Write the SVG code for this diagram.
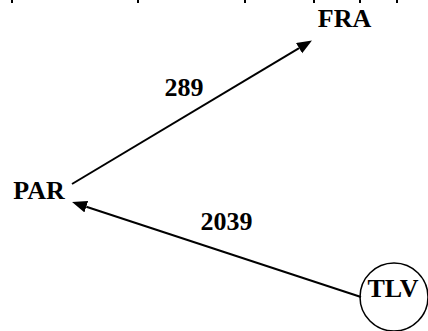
<svg xmlns="http://www.w3.org/2000/svg" width="428" height="331" viewBox="0 0 428 331">
<style>
.lbl{font-family:"Liberation Serif","Times New Roman",serif;font-weight:bold;font-size:26px;fill:#000;text-anchor:middle}
.edge{stroke:#000;stroke-width:2;fill:none}
.tick{fill:#000}
</style>
<defs>
<marker id="ah" markerUnits="userSpaceOnUse" markerWidth="16" markerHeight="13" refX="0" refY="6" orient="auto">
<path d="M0,0 L15,6 L0,12 z" fill="#000"/>
</marker>
</defs>
<rect width="428" height="331" fill="#fff"/>
<g id="ticks">
<rect class="tick" x="11" y="0" width="2" height="3"/>
<rect class="tick" x="137" y="0" width="2" height="3"/>
<rect class="tick" x="244" y="0" width="2" height="3"/>
<rect class="tick" x="313" y="0" width="2" height="3"/>
<rect class="tick" x="359" y="0" width="2" height="3"/>
<rect class="tick" x="396" y="0" width="2" height="3"/>
</g>
<g id="connectors">
<line class="edge" x1="72" y1="184" x2="299.1" y2="48.2" marker-end="url(#ah)"/>
<text class="lbl" x="184" y="96">289</text>
<line class="edge" x1="361" y1="297" x2="86.3" y2="206.7" marker-end="url(#ah)"/>
<text class="lbl" x="226.5" y="230">2039</text>
</g>
<g id="node-FRA">
<text class="lbl" x="344.5" y="27">FRA</text>
</g>
<g id="node-PAR">
<text class="lbl" x="39" y="199">PAR</text>
</g>
<g id="node-TLV">
<circle cx="394" cy="297" r="34" fill="none" stroke="#000" stroke-width="1.5"/>
<text class="lbl" x="393" y="297">TLV</text>
</g>
</svg>
